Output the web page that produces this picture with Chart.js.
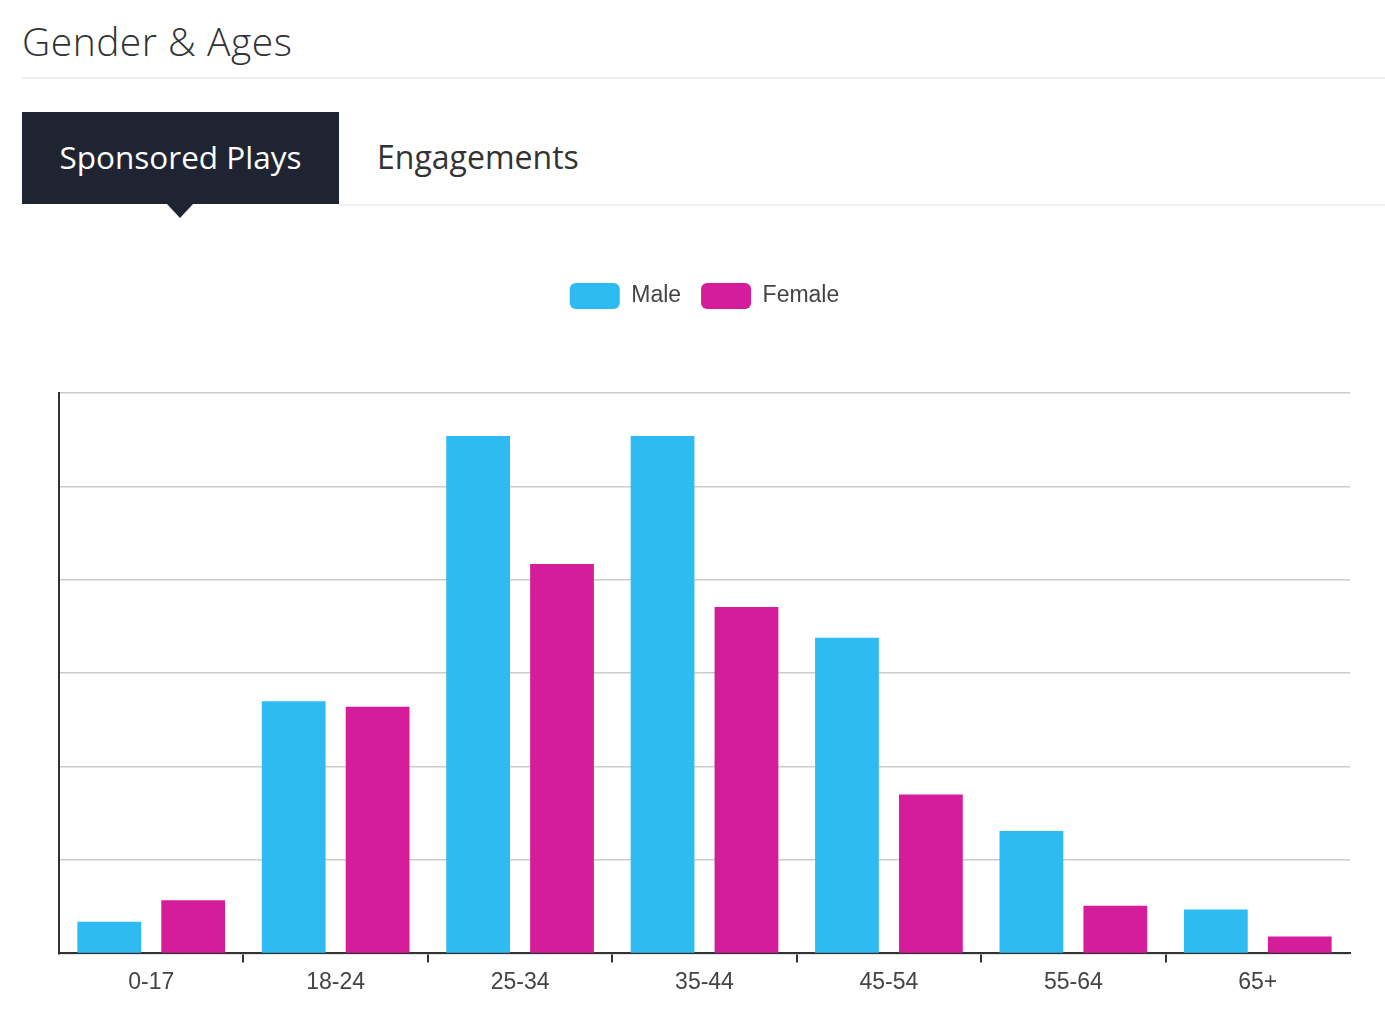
<!DOCTYPE html>
<html>
<head>
<meta charset="utf-8">
<script src="https://cdn.jsdelivr.net/npm/chart.js@4.4.1/dist/chart.umd.min.js"></script>
<style>
    body { margin: 0; background: #fff; width: 1385px; height: 1019px; overflow: hidden; position: relative; font-family: "Open Sans", "Noto Sans", sans-serif; }
    .title { position: absolute; left: 22px; top: 14px; font-size: 39px; font-weight: 300; color: #333; letter-spacing: 0.5px; }
    .rule { position: absolute; left: 22px; right: 0; top: 77px; height: 2px; background: #eee; }
    .tab-active { position: absolute; left: 22px; top: 112px; width: 317px; height: 92px; background: #1f2433; color: #fff; font-size: 31.5px; line-height: 90px; text-align: center; }
    .tab-active:after { content: ''; position: absolute; left: 145px; top: 92px; border-left: 13px solid transparent; border-right: 13px solid transparent; border-top: 14px solid #1f2433; }
    .tab { position: absolute; left: 377px; top: 112px; height: 92px; line-height: 90px; font-size: 32px; color: #333; }
    .tab-rule { position: absolute; left: 339px; right: 0; top: 204px; height: 2px; background: #f2f2f2; }
    .chart-box { position: absolute; left: 0; top: 263px; width: 1385px; height: 756px; }
</style>
</head>
<body>
<div class="title">Gender &amp; Ages</div>
<div class="rule"></div>
<div class="tab-active">Sponsored Plays</div>
<div class="tab">Engagements</div>
<div class="tab-rule"></div>
<div class="chart-box"><canvas id="genderChart"></canvas></div>
<script>
const ageGroups = ['0-17', '18-24', '25-34', '35-44', '45-54', '55-64', '65+']
const seriesNames = ['Male', 'Female']
const maleValues = [0.34, 2.70, 5.54, 5.54, 3.38, 1.31, 0.47]
const femaleValues = [0.57, 2.64, 4.17, 3.71, 1.70, 0.51, 0.18]
const seriesColors = ['#2ebbf2', '#d51c9b']

Chart.defaults.font.family = '"Liberation Sans", Arial, sans-serif'
Chart.defaults.color = '#444'

// push the plot area down below the legend
const legendSpacer = {
    id: 'legendSpacer',
    beforeInit(chart) {
        const fit = chart.legend.fit
        chart.legend.fit = function () {
            fit.bind(chart.legend)()
            this.height += 74
        }
    }
}

new Chart(document.getElementById('genderChart'), {
    type: 'bar',
    data: {
        labels: ageGroups,
        datasets: [
            { label: seriesNames[0], data: maleValues, backgroundColor: seriesColors[0] },
            { label: seriesNames[1], data: femaleValues, backgroundColor: seriesColors[1] }
        ]
    },
    options: {
        responsive: true,
        maintainAspectRatio: false,
        animation: false,
        categoryPercentage: 0.91,
        barPercentage: 0.76,
        layout: { padding: { left: 59, right: 35, top: 0, bottom: 17 } },
        plugins: {
            tooltip: { enabled: false },
            legend: {
                position: 'top',
                labels: {
                    boxWidth: 50,
                    boxHeight: 26,
                    useBorderRadius: true,
                    borderRadius: 6,
                    padding: 20,
                    font: { size: 23 },
                    color: '#444'
                }
            }
        },
        scales: {
            x: {
                border: { color: '#333', width: 2 },
                grid: {
                    offset: true,
                    drawOnChartArea: false,
                    tickLength: 9,
                    lineWidth: 2,
                    color: ctx => (ctx.type === 'tick' && ctx.index > 0) ? '#333' : 'rgba(0,0,0,0)'
                },
                ticks: { font: { size: 23 }, color: '#444', padding: 6 }
            },
            y: {
                min: 0,
                max: 6,
                border: { color: '#333', width: 2 },
                grid: { color: '#cccccc', lineWidth: 1.5, drawTicks: false },
                ticks: { display: false, stepSize: 1 }
            }
        }
    },
    plugins: [legendSpacer]
})
</script>
</body>
</html>
